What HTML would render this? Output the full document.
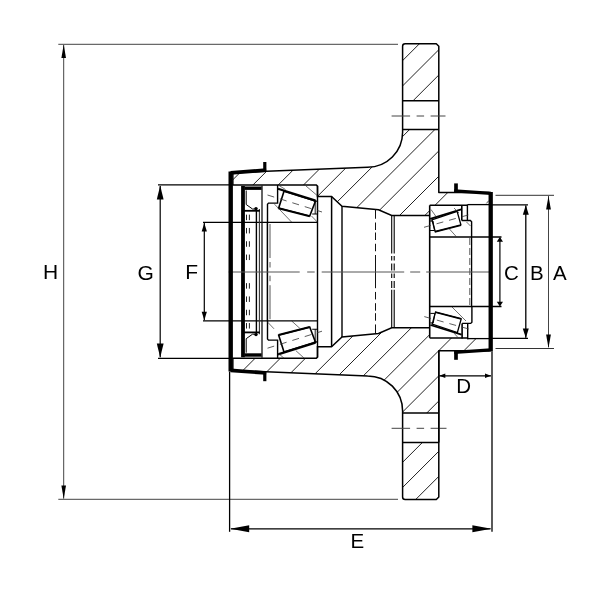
<!DOCTYPE html>
<html><head><meta charset="utf-8"><title>Hub drawing</title>
<style>
html,body{margin:0;padding:0;background:#fff;}
body{width:600px;height:600px;overflow:hidden;font-family:"Liberation Sans",sans-serif;}
svg{display:block;filter:grayscale(1);}
</style></head><body>
<svg width="600" height="600" viewBox="0 0 600 600">
<rect width="600" height="600" fill="#fff"/>
<defs>
<clipPath id="matT">
<path d="M402.60,100.70 L402.60,46.20 L405.10,43.70 L436.30,43.70 L438.80,46.20 L438.80,100.70Z"/>
<path d="M233.00,172.70 L367.50,167.30 L367.60,167.30 L372.17,167.00 L376.66,166.11 L380.99,164.64 L385.10,162.61 L388.91,160.07 L392.35,157.05 L395.37,153.61 L397.91,149.80 L399.94,145.69 L401.41,141.36 L402.30,136.87 L402.60,132.30 L402.60,129.60 L438.80,129.60 L438.80,192.50 L455.00,192.50 L455.00,205.30 L429.70,205.30 L429.70,215.50 L391.70,215.50 L378.50,209.70 L342.00,206.20 L331.50,196.40 L317.50,196.40 L317.50,184.90 L233.00,184.90Z"/>
</clipPath>
<clipPath id="matB">
<path d="M402.60,442.50 L402.60,497.00 L405.10,499.50 L436.30,499.50 L438.80,497.00 L438.80,442.50Z"/>
<path d="M233.00,370.50 L367.50,375.90 L367.60,375.90 L372.17,376.20 L376.66,377.09 L380.99,378.56 L385.10,380.59 L388.91,383.13 L392.35,386.15 L395.37,389.59 L397.91,393.40 L399.94,397.51 L401.41,401.84 L402.30,406.33 L402.60,410.90 L402.60,412.90 L438.80,412.90 L438.80,350.70 L489.50,350.70 L489.50,338.60 L467.40,338.60 L467.40,337.90 L429.70,337.90 L429.70,327.70 L391.70,327.70 L378.50,333.50 L342.00,337.00 L331.50,346.80 L317.50,346.80 L317.50,358.30 L233.00,358.30Z"/>
</clipPath>
</defs>
<g clip-path="url(#matT)" stroke="#222" stroke-width="1">
<line x1="-212.70" y1="600" x2="387.30" y2="0"/>
<line x1="-187.40" y1="600" x2="412.60" y2="0"/>
<line x1="-162.10" y1="600" x2="437.90" y2="0"/>
<line x1="-136.80" y1="600" x2="463.20" y2="0"/>
<line x1="-111.50" y1="600" x2="488.50" y2="0"/>
<line x1="-86.20" y1="600" x2="513.80" y2="0"/>
<line x1="-60.90" y1="600" x2="539.10" y2="0"/>
<line x1="-35.60" y1="600" x2="564.40" y2="0"/>
<line x1="-10.30" y1="600" x2="589.70" y2="0"/>
<line x1="15.00" y1="600" x2="615.00" y2="0"/>
<line x1="40.30" y1="600" x2="640.30" y2="0"/>
<line x1="65.60" y1="600" x2="665.60" y2="0"/>
<line x1="90.90" y1="600" x2="690.90" y2="0"/>
</g>
<g clip-path="url(#matB)" stroke="#222" stroke-width="1">
<line x1="-36.90" y1="600" x2="563.10" y2="0"/>
<line x1="-11.75" y1="600" x2="588.25" y2="0"/>
<line x1="13.40" y1="600" x2="613.40" y2="0"/>
<line x1="38.55" y1="600" x2="638.55" y2="0"/>
<line x1="63.70" y1="600" x2="663.70" y2="0"/>
<line x1="88.85" y1="600" x2="688.85" y2="0"/>
<line x1="114.00" y1="600" x2="714.00" y2="0"/>
<line x1="139.15" y1="600" x2="739.15" y2="0"/>
<line x1="164.30" y1="600" x2="764.30" y2="0"/>
<line x1="189.45" y1="600" x2="789.45" y2="0"/>
<line x1="214.60" y1="600" x2="814.60" y2="0"/>
<line x1="239.75" y1="600" x2="839.75" y2="0"/>
<line x1="264.90" y1="600" x2="864.90" y2="0"/>
<line x1="290.05" y1="600" x2="890.05" y2="0"/>
<line x1="315.20" y1="600" x2="915.20" y2="0"/>
<line x1="340.35" y1="600" x2="940.35" y2="0"/>
<line x1="365.50" y1="600" x2="965.50" y2="0"/>
</g>
<path d="M233,172.7 L367.60,167.3 A35,35 0 0 0 402.6,132.30 L402.6,46.2 Q402.6,43.7 405.1,43.7 L436.3,43.7 L438.8,46.2 L438.8,192.5 L489.5,192.5" fill="none" stroke="#000" stroke-width="1.5" stroke-linejoin="round"/>
<path d="M233,370.5 L367.60,375.9 A35,35 0 0 1 402.6,410.90 L402.6,497.0 Q402.6,499.5 405.1,499.5 L436.3,499.5 L438.8,497.0 L438.8,350.7 L489.5,350.7" fill="none" stroke="#000" stroke-width="1.5" stroke-linejoin="round"/>
<line x1="233" y1="172.7" x2="233" y2="184.9" stroke="#000" stroke-width="1.2" />
<line x1="233" y1="370.5" x2="233" y2="358.3" stroke="#000" stroke-width="1.2" />
<line x1="402.6" y1="100.7" x2="438.8" y2="100.7" stroke="#000" stroke-width="1.5" />
<line x1="402.6" y1="442.5" x2="438.8" y2="442.5" stroke="#000" stroke-width="1.5" />
<line x1="402.6" y1="129.6" x2="438.8" y2="129.6" stroke="#000" stroke-width="1.5" />
<line x1="402.6" y1="412.9" x2="438.8" y2="412.9" stroke="#000" stroke-width="1.5" />
<line x1="391.6" y1="116" x2="445.5" y2="116" stroke="#444" stroke-width="1" stroke-dasharray="18.5 6.5 7.5 6.5"/>
<line x1="391.6" y1="428.3" x2="446.5" y2="428.3" stroke="#444" stroke-width="1" stroke-dasharray="18.5 6.5 7.5 6.5"/>
<path d="M233.00,184.90 L316.30,184.90 L317.50,186.10 L317.50,196.40 L331.50,196.40 L342.00,206.20 L378.50,209.70 L391.70,215.50 L429.70,215.50" fill="none" stroke="#000" stroke-width="1.5" />
<path d="M233.00,358.30 L316.30,358.30 L317.50,357.10 L317.50,346.80 L331.50,346.80 L342.00,337.00 L378.50,333.50 L391.70,327.70 L429.70,327.70" fill="none" stroke="#000" stroke-width="1.5" />
<line x1="317.5" y1="186" x2="317.5" y2="357.2" stroke="#000" stroke-width="1.4" />
<line x1="331.6" y1="196.4" x2="331.6" y2="346.8" stroke="#000" stroke-width="1.5" />
<line x1="342" y1="206.2" x2="342" y2="337.0" stroke="#000" stroke-width="1.4" />
<line x1="429.7" y1="205.3" x2="429.7" y2="337.9" stroke="#000" stroke-width="1.6" />
<path d="M429.70,205.30 L467.40,205.30" fill="none" stroke="#000" stroke-width="1.5" />
<path d="M429.70,337.90 L467.40,337.90" fill="none" stroke="#000" stroke-width="1.5" />
<path d="M467.40,204.60 L489.50,204.60" fill="none" stroke="#000" stroke-width="1.3" />
<path d="M467.40,338.60 L489.50,338.60" fill="none" stroke="#000" stroke-width="1.3" />
<line x1="486.4" y1="203.4" x2="488.8" y2="200.6" stroke="#222" stroke-width="0.8" />
<path d="M267.50,222.30 L267.50,204.20 L268.50,203.10 L277.60,203.10 L277.60,184.90" fill="none" stroke="#000" stroke-width="1.4" />
<path d="M284.00,191.30 L315.50,201.00 L309.80,215.90 L278.70,207.90Z" fill="#fff" stroke="#000" stroke-width="1.6" />
<path d="M278.00,188.80 L315.50,200.60" fill="none" stroke="#000" stroke-width="2.2" />
<path d="M278.50,208.30 L309.80,216.40" fill="none" stroke="#000" stroke-width="1.8" />
<path d="M313.80,201.30 L317.50,201.30 L317.50,214.00 L312.20,214.00" fill="none" stroke="#000" stroke-width="1.1" />
<path d="M315.20,201.30 L315.20,214.00" fill="none" stroke="#000" stroke-width="0.9" />
<path d="M267.50,195.00 L322.00,212.00" fill="none" stroke="#333" stroke-width="0.8" stroke-dasharray="7 6"/>
<path d="M278.50,185.20 L285.50,189.50" fill="none" stroke="#333" stroke-width="0.7" />
<path d="M306.00,186.00 L317.30,195.60" fill="none" stroke="#333" stroke-width="0.7" />
<path d="M274.50,204.20 L291.50,222.00" fill="none" stroke="#333" stroke-width="0.7" />
<path d="M311.50,216.00 L317.30,222.00" fill="none" stroke="#333" stroke-width="0.7" />
<path d="M267.50,320.90 L267.50,339.00 L268.50,340.10 L277.60,340.10 L277.60,358.30" fill="none" stroke="#000" stroke-width="1.4" />
<path d="M284.00,351.90 L315.50,342.20 L309.80,327.30 L278.70,335.30Z" fill="#fff" stroke="#000" stroke-width="1.6" />
<path d="M278.00,354.40 L315.50,342.60" fill="none" stroke="#000" stroke-width="2.2" />
<path d="M278.50,334.90 L309.80,326.80" fill="none" stroke="#000" stroke-width="1.8" />
<path d="M313.80,341.90 L317.50,341.90 L317.50,329.20 L312.20,329.20" fill="none" stroke="#000" stroke-width="1.1" />
<path d="M315.20,341.90 L315.20,329.20" fill="none" stroke="#000" stroke-width="0.9" />
<path d="M267.50,348.20 L322.00,331.20" fill="none" stroke="#333" stroke-width="0.8" stroke-dasharray="7 6"/>
<path d="M267.80,322.30 L274.00,328.80" fill="none" stroke="#333" stroke-width="0.7" />
<path d="M291.70,321.00 L300.00,328.50" fill="none" stroke="#333" stroke-width="0.7" />
<path d="M295.80,350.60 L304.20,358.20" fill="none" stroke="#333" stroke-width="0.7" />
<path d="M278.30,353.30 L284.00,358.20" fill="none" stroke="#333" stroke-width="0.7" />
<line x1="203" y1="222.3" x2="317.5" y2="222.3" stroke="#000" stroke-width="1.3" />
<line x1="203" y1="320.9" x2="317.5" y2="320.9" stroke="#000" stroke-width="1.3" />
<path d="M461.80,205.30 L461.80,220.50" fill="none" stroke="#000" stroke-width="1.6" />
<path d="M467.40,204.60 L467.40,220.50" fill="none" stroke="#000" stroke-width="1.4" />
<path d="M461.80,220.50 L470.40,220.50 L471.60,221.70 L471.60,237.00" fill="none" stroke="#000" stroke-width="1.4" />
<path d="M431.90,219.80 L457.10,211.40 L460.90,224.90 L435.20,231.50Z" fill="#fff" stroke="#000" stroke-width="1.3" />
<path d="M430.10,218.90 L461.30,209.30" fill="none" stroke="#000" stroke-width="1.8" />
<path d="M434.80,232.00 L461.00,225.30" fill="none" stroke="#000" stroke-width="1.3" />
<path d="M430.00,221.00 L433.00,221.00 L434.50,230.50 L430.00,230.50" fill="none" stroke="#000" stroke-width="1.0" />
<path d="M424.00,227.30 L471.00,214.20" fill="none" stroke="#333" stroke-width="0.8" stroke-dasharray="7 6"/>
<path d="M431.00,209.50 L436.00,216.50" fill="none" stroke="#333" stroke-width="0.7" />
<path d="M454.00,208.00 L459.00,213.00" fill="none" stroke="#333" stroke-width="0.7" />
<path d="M449.00,228.50 L456.00,236.30" fill="none" stroke="#333" stroke-width="0.7" />
<path d="M466.50,222.00 L470.50,226.00" fill="none" stroke="#333" stroke-width="0.7" />
<path d="M462.10,338.60 L462.10,323.40" fill="none" stroke="#000" stroke-width="1.6" />
<path d="M467.70,339.30 L467.70,323.40" fill="none" stroke="#000" stroke-width="1.4" />
<path d="M462.10,323.40 L470.70,323.40 L471.90,322.20 L471.90,306.90" fill="none" stroke="#000" stroke-width="1.4" />
<path d="M432.20,324.10 L457.40,332.50 L461.20,319.00 L435.50,312.40Z" fill="#fff" stroke="#000" stroke-width="1.3" />
<path d="M430.40,325.00 L461.60,334.60" fill="none" stroke="#000" stroke-width="1.8" />
<path d="M435.10,311.90 L461.30,318.60" fill="none" stroke="#000" stroke-width="1.3" />
<path d="M430.30,322.90 L433.30,322.90 L434.80,313.40 L430.30,313.40" fill="none" stroke="#000" stroke-width="1.0" />
<path d="M424.30,316.60 L471.30,329.70" fill="none" stroke="#333" stroke-width="0.8" stroke-dasharray="7 6"/>
<path d="M452.00,307.00 L466.00,321.00" fill="none" stroke="#333" stroke-width="0.7" />
<path d="M453.50,332.50 L458.00,337.60" fill="none" stroke="#333" stroke-width="0.7" />
<line x1="429.7" y1="237" x2="501.5" y2="237" stroke="#000" stroke-width="1.3" />
<line x1="429.7" y1="306.5" x2="501.5" y2="306.5" stroke="#000" stroke-width="1.3" />
<line x1="471.6" y1="237" x2="471.6" y2="306.2" stroke="#000" stroke-width="1.3" />
<line x1="469.8" y1="238" x2="469.8" y2="305.2" stroke="#444" stroke-width="0.9" stroke-dasharray="7 3"/>
<line x1="267.4" y1="222.3" x2="267.4" y2="320.9" stroke="#000" stroke-width="1.5" />
<line x1="243.0" y1="186" x2="243.0" y2="357.2" stroke="#000" stroke-width="3.8" />
<line x1="262.0" y1="185.5" x2="262.0" y2="357.7" stroke="#111" stroke-width="1.3" />
<line x1="256.4" y1="209" x2="256.4" y2="334.2" stroke="#000" stroke-width="1.4" />
<line x1="259.4" y1="209" x2="259.4" y2="334.2" stroke="#333" stroke-width="1.1" />
<line x1="246.5" y1="214.65" x2="246.5" y2="220.15" stroke="#222" stroke-width="1.0" />
<line x1="246.5" y1="328.55" x2="246.5" y2="323.05" stroke="#222" stroke-width="1.0" />
<line x1="246.5" y1="227.95000000000002" x2="246.5" y2="233.45000000000002" stroke="#222" stroke-width="1.0" />
<line x1="246.5" y1="315.25" x2="246.5" y2="309.75" stroke="#222" stroke-width="1.0" />
<line x1="246.5" y1="241.25" x2="246.5" y2="246.75" stroke="#222" stroke-width="1.0" />
<line x1="246.5" y1="301.95" x2="246.5" y2="296.45" stroke="#222" stroke-width="1.0" />
<line x1="246.5" y1="254.55" x2="246.5" y2="260.05" stroke="#222" stroke-width="1.0" />
<line x1="246.5" y1="288.65" x2="246.5" y2="283.15" stroke="#222" stroke-width="1.0" />
<line x1="249.4" y1="214.65" x2="249.4" y2="220.15" stroke="#222" stroke-width="1.0" />
<line x1="249.4" y1="328.55" x2="249.4" y2="323.05" stroke="#222" stroke-width="1.0" />
<line x1="249.4" y1="227.95000000000002" x2="249.4" y2="233.45000000000002" stroke="#222" stroke-width="1.0" />
<line x1="249.4" y1="315.25" x2="249.4" y2="309.75" stroke="#222" stroke-width="1.0" />
<line x1="249.4" y1="241.25" x2="249.4" y2="246.75" stroke="#222" stroke-width="1.0" />
<line x1="249.4" y1="301.95" x2="249.4" y2="296.45" stroke="#222" stroke-width="1.0" />
<line x1="249.4" y1="254.55" x2="249.4" y2="260.05" stroke="#222" stroke-width="1.0" />
<line x1="249.4" y1="288.65" x2="249.4" y2="283.15" stroke="#222" stroke-width="1.0" />
<line x1="270" y1="224" x2="270" y2="258" stroke="#444" stroke-width="0.9" />
<line x1="270" y1="319.2" x2="270" y2="285.2" stroke="#444" stroke-width="0.9" />
<line x1="270" y1="262" x2="270" y2="267.5" stroke="#444" stroke-width="0.9" />
<line x1="270" y1="281.2" x2="270" y2="275.7" stroke="#444" stroke-width="0.9" />
<path d="M244.50,188.20 L261.60,188.20" fill="none" stroke="#000" stroke-width="3.4" />
<path d="M246.20,190.50 L246.20,204.50 L252.50,209.00 L255.00,209.00" fill="none" stroke="#000" stroke-width="1.0" />
<path d="M242.80,210.80 L259.80,210.80" fill="none" stroke="#000" stroke-width="1.8" />
<circle cx="256" cy="208.6" r="1.7" fill="#000"/>
<path d="M244.50,355.00 L261.60,355.00" fill="none" stroke="#000" stroke-width="3.4" />
<path d="M246.20,352.70 L246.20,338.70 L252.50,334.20 L255.00,334.20" fill="none" stroke="#000" stroke-width="1.0" />
<path d="M242.80,332.40 L259.80,332.40" fill="none" stroke="#000" stroke-width="1.8" />
<circle cx="256" cy="334.6" r="1.7" fill="#000"/>
<line x1="375.5" y1="209.5" x2="375.5" y2="218.75" stroke="#111" stroke-width="1.0" />
<line x1="375.5" y1="333.7" x2="375.5" y2="324.45" stroke="#111" stroke-width="1.0" />
<line x1="375.5" y1="222.5" x2="375.5" y2="230" stroke="#111" stroke-width="1.0" />
<line x1="375.5" y1="320.7" x2="375.5" y2="313.2" stroke="#111" stroke-width="1.0" />
<line x1="375.5" y1="232.5" x2="375.5" y2="240" stroke="#111" stroke-width="1.0" />
<line x1="375.5" y1="310.7" x2="375.5" y2="303.2" stroke="#111" stroke-width="1.0" />
<line x1="375.5" y1="243.75" x2="375.5" y2="251.25" stroke="#111" stroke-width="1.0" />
<line x1="375.5" y1="299.45" x2="375.5" y2="291.95" stroke="#111" stroke-width="1.0" />
<line x1="375.5" y1="255" x2="375.5" y2="288.2" stroke="#111" stroke-width="1.0" />
<line x1="391.7" y1="215.2" x2="391.7" y2="253.5" stroke="#000" stroke-width="1.1" />
<line x1="391.7" y1="328.0" x2="391.7" y2="289.7" stroke="#000" stroke-width="1.1" />
<line x1="391.7" y1="256" x2="391.7" y2="288" stroke="#000" stroke-width="1.1" stroke-dasharray="4.5 3 7 3"/>
<line x1="394.2" y1="215.2" x2="394.2" y2="253.5" stroke="#000" stroke-width="1.1" />
<line x1="394.2" y1="328.0" x2="394.2" y2="289.7" stroke="#000" stroke-width="1.1" />
<line x1="394.2" y1="256" x2="394.2" y2="288" stroke="#000" stroke-width="1.1" stroke-dasharray="4.5 3 7 3"/>
<line x1="228.7" y1="272" x2="490" y2="272" stroke="#555" stroke-width="1" stroke-dasharray="71 7.5 7.5 7 82.5 6 10 6 80"/>
<path d="M264.80,162.00 L264.80,171.80" fill="none" stroke="#000" stroke-width="3.2" />
<path d="M266.20,170.20 L230.60,172.80" fill="none" stroke="#000" stroke-width="3.7" />
<path d="M264.80,381.20 L264.80,371.40" fill="none" stroke="#000" stroke-width="3.2" />
<path d="M266.20,373.00 L230.60,370.40" fill="none" stroke="#000" stroke-width="3.7" />
<line x1="230.7" y1="171.6" x2="230.7" y2="371.6" stroke="#000" stroke-width="4.4" />
<path d="M456.00,183.40 L456.00,192.00" fill="none" stroke="#000" stroke-width="3.7" />
<path d="M454.20,190.90 L491.00,193.30" fill="none" stroke="#000" stroke-width="3.2" />
<path d="M456.00,359.80 L456.00,351.20" fill="none" stroke="#000" stroke-width="3.7" />
<path d="M454.20,352.30 L491.00,349.90" fill="none" stroke="#000" stroke-width="3.2" />
<line x1="490.7" y1="192" x2="490.7" y2="351.2" stroke="#000" stroke-width="4.3" />
<line x1="58.3" y1="44.3" x2="398" y2="44.3" stroke="#444" stroke-width="1" />
<line x1="58.3" y1="499.3" x2="398" y2="499.3" stroke="#444" stroke-width="1" />
<line x1="63.7" y1="45" x2="63.7" y2="498.6" stroke="#444" stroke-width="1" />
<path d="M63.70,44.60 L66.00,58.10 L61.40,58.10Z" fill="#000"/>
<path d="M63.70,499.00 L61.40,485.50 L66.00,485.50Z" fill="#000"/>
<line x1="158" y1="184.9" x2="233" y2="184.9" stroke="#000" stroke-width="1.3" />
<line x1="158" y1="358.3" x2="233" y2="358.3" stroke="#000" stroke-width="1.3" />
<line x1="160.2" y1="186" x2="160.2" y2="357.2" stroke="#000" stroke-width="1.2" />
<path d="M160.20,185.60 L163.60,199.60 L156.80,199.60Z" fill="#000"/>
<path d="M160.20,357.60 L156.80,343.60 L163.60,343.60Z" fill="#000"/>
<line x1="204.3" y1="223" x2="204.3" y2="320.2" stroke="#000" stroke-width="1.2" />
<path d="M204.30,222.90 L206.90,231.40 L201.70,231.40Z" fill="#000"/>
<path d="M204.30,320.30 L201.70,311.80 L206.90,311.80Z" fill="#000"/>
<line x1="499.9" y1="238" x2="499.9" y2="305.2" stroke="#000" stroke-width="1.2" />
<path d="M499.90,237.10 L503.00,241.70 L496.80,241.70Z" fill="#000"/>
<path d="M499.90,306.40 L496.80,301.80 L503.00,301.80Z" fill="#000"/>
<line x1="489.5" y1="204.8" x2="528" y2="204.8" stroke="#000" stroke-width="1.3" />
<line x1="489.5" y1="338.4" x2="528" y2="338.4" stroke="#000" stroke-width="1.3" />
<line x1="525.8" y1="205.5" x2="525.8" y2="337.7" stroke="#000" stroke-width="1.3" />
<path d="M525.80,205.20 L528.80,214.70 L522.80,214.70Z" fill="#000"/>
<path d="M525.80,338.00 L522.80,328.50 L528.80,328.50Z" fill="#000"/>
<line x1="495.5" y1="195.3" x2="554" y2="195.3" stroke="#333" stroke-width="1" />
<line x1="495.5" y1="348.5" x2="554" y2="348.5" stroke="#333" stroke-width="1" />
<line x1="548.5" y1="196" x2="548.5" y2="347.2" stroke="#444" stroke-width="1" />
<path d="M548.50,196.00 L550.90,209.50 L546.10,209.50Z" fill="#000"/>
<path d="M548.50,347.90 L546.10,334.40 L550.90,334.40Z" fill="#000"/>
<line x1="439.3" y1="375.8" x2="491" y2="375.8" stroke="#000" stroke-width="1.2" />
<path d="M439.30,375.80 L445.30,373.60 L445.30,378.00Z" fill="#000"/>
<path d="M491.00,375.80 L485.00,378.00 L485.00,373.60Z" fill="#000"/>
<line x1="438.8" y1="350.7" x2="438.8" y2="442.5" stroke="#000" stroke-width="1.5" />
<line x1="229.6" y1="371.6" x2="229.6" y2="531.8" stroke="#000" stroke-width="1.3" />
<line x1="492" y1="351.2" x2="492" y2="531.8" stroke="#000" stroke-width="1.3" />
<line x1="231" y1="528.8" x2="490.5" y2="528.8" stroke="#000" stroke-width="1.3" />
<path d="M230.20,528.80 L249.20,525.30 L249.20,532.30Z" fill="#000"/>
<path d="M491.40,528.80 L472.40,532.30 L472.40,525.30Z" fill="#000"/>
<text x="43.1" y="279.3" font-size="21" font-family="Liberation Sans, sans-serif" fill="#000">H</text>
<text x="137.6" y="279.5" font-size="21" font-family="Liberation Sans, sans-serif" fill="#000">G</text>
<text x="185.3" y="279.3" font-size="21" font-family="Liberation Sans, sans-serif" fill="#000">F</text>
<text x="504" y="279.8" font-size="20.5" font-family="Liberation Sans, sans-serif" fill="#000">C</text>
<text x="530" y="279.7" font-size="20.5" font-family="Liberation Sans, sans-serif" fill="#000">B</text>
<text x="553" y="279.7" font-size="20.5" font-family="Liberation Sans, sans-serif" fill="#000">A</text>
<text x="456.3" y="393" font-size="20.5" font-family="Liberation Sans, sans-serif" fill="#000">D</text>
<text x="350.6" y="547.5" font-size="20.5" font-family="Liberation Sans, sans-serif" fill="#000">E</text>
</svg>
</body></html>
